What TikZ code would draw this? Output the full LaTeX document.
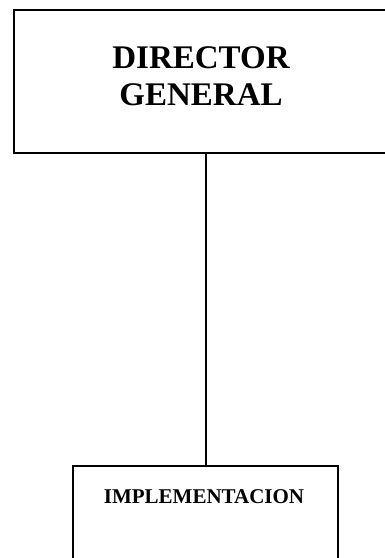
\documentclass[tikz,border=0pt]{standalone}
\usepackage{fontspec}
\setmainfont{Liberation Serif}
\usepackage{tikz}
\usetikzlibrary{positioning}

\begin{document}
\begin{tikzpicture}[x=1pt,y=1pt,
	box/.style={draw,line width=2pt,inner sep=0pt},
	title/.style={font=\bfseries\fontsize{33}{37}\selectfont,align=center},
	unit/.style={font=\bfseries\fontsize{21}{25}\selectfont}]
	
	\useasboundingbox (0,0) rectangle (385,558);
	
	% Draw boxes
	\node[box,anchor=north west,minimum width=377pt,minimum height=143pt] (dir) at (13,549) {};
	\node[box,anchor=north west,minimum width=265pt,minimum height=110pt] (impl) at (72,93) {};
	
	% Draw texts
	\node[title] (dirtext) at (201,482) {DIRECTOR\\GENERAL};
	\node[unit,anchor=base] (impltext) at (204,54) {IMPLEMENTACION};
	
	% Draw link
	\draw[line width=2pt] (impl.north) -- (impl.north |- dir.south);
	
\end{tikzpicture}
\end{document}
